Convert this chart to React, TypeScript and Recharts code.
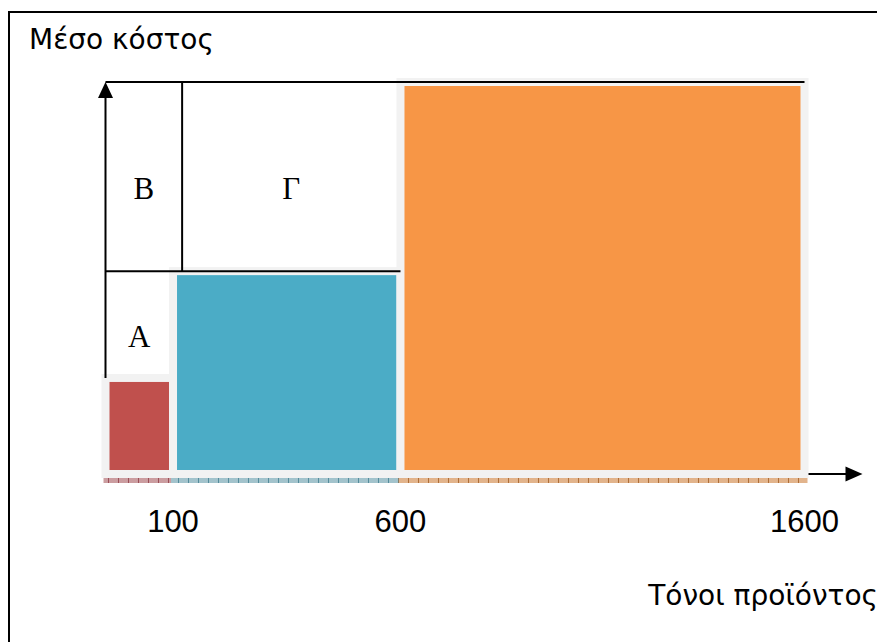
import React from "react";
import { ComposedChart, XAxis, YAxis, ReferenceArea, ReferenceLine } from "recharts";

// tonnage bands (x) and average cost of each band (y, arbitrary units)
const bandStart = [0, 100, 600];
const bandEnd = [100, 600, 1600];
const averageCost = [0.98, 2.07, 4];
const tickTons = [100, 600, 1600];

// lettered regions above the bars; the B / Γ divider sits at about 120 t
const regionNames = ["A", "B", "Γ"];
const regionX1 = [0, 0, 120];
const regionX2 = [100, 120, 600];
const regionY1 = [0.98, 2.07, 2.07];
const regionY2 = [2.07, 4, 4];
const dividerTons = 120;

const barColors = ["#c0504d", "#4bacc6", "#f79646"];
const stripColors = ["#cb9da0", "#a3c3cc", "#e2b48c"];
const stripTickColors = ["#9c4f58", "#558d9c", "#b06f38"];

// the sketch is not drawn to scale: each band gets its own share of the axis
const scaleStops = [0, 100, 600, 1600];
const scaleShare = [0, 0.0966, 0.422, 1];

function steppedScale(dom: number[] = [0, 1600], rng: number[] = [0, 1]): any {
  const toShare = (v: number) => {
    let i = 0;
    while (i < scaleStops.length - 2 && v > scaleStops[i + 1]) i++;
    const t = (v - scaleStops[i]) / (scaleStops[i + 1] - scaleStops[i]);
    return scaleShare[i] + t * (scaleShare[i + 1] - scaleShare[i]);
  };
  const s: any = (v: number) => rng[0] + toShare(v) * (rng[1] - rng[0]);
  s.domain = (d?: number[]) => {
    if (!d) return dom.slice();
    dom = d.slice();
    return s;
  };
  s.range = (r?: number[]) => {
    if (!r) return rng.slice();
    rng = r.slice();
    return s;
  };
  s.copy = () => steppedScale(dom, rng);
  s.ticks = () => tickTons.slice();
  s.tickFormat = () => (v: number) => String(v);
  s.invert = (p: number) => {
    const share = (p - rng[0]) / (rng[1] - rng[0]);
    let i = 0;
    while (i < scaleShare.length - 2 && share > scaleShare[i + 1]) i++;
    const t = (share - scaleShare[i]) / (scaleShare[i + 1] - scaleShare[i]);
    return scaleStops[i] + t * (scaleStops[i + 1] - scaleStops[i]);
  };
  s.clamp = () => s;
  s.nice = () => s;
  return s;
}

const serif = "'Liberation Serif', 'Times New Roman', serif";
const sans = "'Liberation Sans', Arial, sans-serif";
const greek = "'DejaVu Sans', 'Noto Sans', sans-serif";

const barShape = (i: number) => (props: any) => {
  const { x, y, width, height } = props;
  return (
    <g>
      <defs>
        <pattern id={`strip-${i}`} width={10} height={5} patternUnits="userSpaceOnUse">
          <rect width={10} height={5} fill={stripColors[i]} />
          <line x1={0.5} x2={0.5} y1={0} y2={5} stroke={stripTickColors[i]} strokeWidth={1} />
        </pattern>
      </defs>
      <rect x={x} y={y} width={width} height={height} fill={barColors[i]} stroke="#f2f2f2" strokeWidth={8} />
      <rect x={x - 2} y={y + height + 4} width={width + 5} height={5} fill={`url(#strip-${i})`} />
    </g>
  );
};

const regionLabel = (name: string) => (props: any) => {
  const vb = props.viewBox || {};
  return (
    <text
      x={vb.x + vb.width / 2}
      y={vb.y + vb.height / 2}
      dy={22}
      textAnchor="middle"
      fontFamily={serif}
      fontSize={31}
      fill="#000"
    >
      {name}
    </text>
  );
};

const UpArrow = (props: any) => {
  const { x1, y1, x2, y2 } = props;
  return (
    <g>
      <line x1={x1} y1={y1} x2={x2} y2={y2 + 10} stroke="#000" strokeWidth={2} />
      <polygon points={`${x2},${y2} ${x2 - 7.5},${y2 + 16} ${x2 + 7.5},${y2 + 16}`} fill="#000" />
    </g>
  );
};

const RightArrow = (props: any) => {
  const { x1, y1, x2, y2 } = props;
  return (
    <g>
      <line x1={x1 + 4} y1={y1} x2={x2 + 44} y2={y2} stroke="#000" strokeWidth={2} />
      <polygon points={`${x2 + 58},${y2} ${x2 + 41},${y2 - 7.5} ${x2 + 41},${y2 + 7.5}`} fill="#000" />
    </g>
  );
};

const TonTick = (props: any) => {
  const { x, y, payload } = props;
  return (
    <text x={x} y={y} dy={58} textAnchor="middle" fontFamily={sans} fontSize={31} fill="#000">
      {payload.value}
    </text>
  );
};

export default function App() {
  const topCost = averageCost[averageCost.length - 1];
  const lastEnd = bandEnd[bandEnd.length - 1];
  return (
    <div style={{ position: "relative", width: 877, height: 634, overflow: "hidden", background: "#fff" }}>
      <div
        style={{
          position: "absolute",
          left: 0,
          top: 3,
          width: 1000,
          height: 1000,
          borderLeft: "2px solid #000",
          borderTop: "2px solid #000",
        }}
      />
      <div style={{ position: "absolute", left: 0, top: 0 }}>
        <ComposedChart width={877} height={634} margin={{ top: 74, right: 80.5, bottom: 108, left: 97.5 }}>
          <XAxis
            type="number"
            dataKey="tons"
            domain={[0, lastEnd]}
            scale={steppedScale()}
            ticks={tickTons}
            interval={0}
            axisLine={false}
            tickLine={false}
            tickSize={0}
            tickMargin={0}
            tick={<TonTick />}
            height={60}
            allowDataOverflow
          />
          <YAxis type="number" domain={[0, topCost]} hide width={0} allowDataOverflow />

          {bandStart.map((start, i) => (
            <ReferenceArea
              key={`band-${i}`}
              x1={start}
              x2={bandEnd[i]}
              y1={0}
              y2={averageCost[i]}
              shape={barShape(i)}
            />
          ))}

          {regionNames.map((name, i) => (
            <ReferenceArea
              key={`region-${i}`}
              x1={regionX1[i]}
              x2={regionX2[i]}
              y1={regionY1[i]}
              y2={regionY2[i]}
              fill="none"
              fillOpacity={0}
              stroke="none"
              label={regionLabel(name)}
            />
          ))}

          {/* axes: only the parts not hidden behind the bars */}
          <ReferenceLine segment={[{ x: 0, y: averageCost[0] }, { x: 0, y: topCost }]} shape={UpArrow} />
          <ReferenceLine segment={[{ x: lastEnd, y: 0 }, { x: lastEnd, y: 0 }]} shape={RightArrow} />

          <ReferenceLine
            segment={[{ x: 0, y: topCost }, { x: lastEnd, y: topCost }]}
            stroke="#000"
            strokeWidth={2}
          />
          <ReferenceLine
            segment={[{ x: 0, y: averageCost[1] }, { x: bandEnd[1], y: averageCost[1] }]}
            stroke="#000"
            strokeWidth={2}
          />
          <ReferenceLine
            segment={[{ x: dividerTons, y: averageCost[1] }, { x: dividerTons, y: topCost }]}
            stroke="#000"
            strokeWidth={2}
          />
        </ComposedChart>
      </div>
      <svg width={877} height={634} style={{ position: "absolute", left: 0, top: 0, pointerEvents: "none" }}>
        <text x={21} y={41} fontFamily={greek} fontSize={28} fill="#000">
          Μέσο κόστος
        </text>
        <text x={870} y={597} textAnchor="end" fontFamily={greek} fontSize={28} fill="#000">
          Τόνοι προϊόντος
        </text>
      </svg>
    </div>
  );
}
